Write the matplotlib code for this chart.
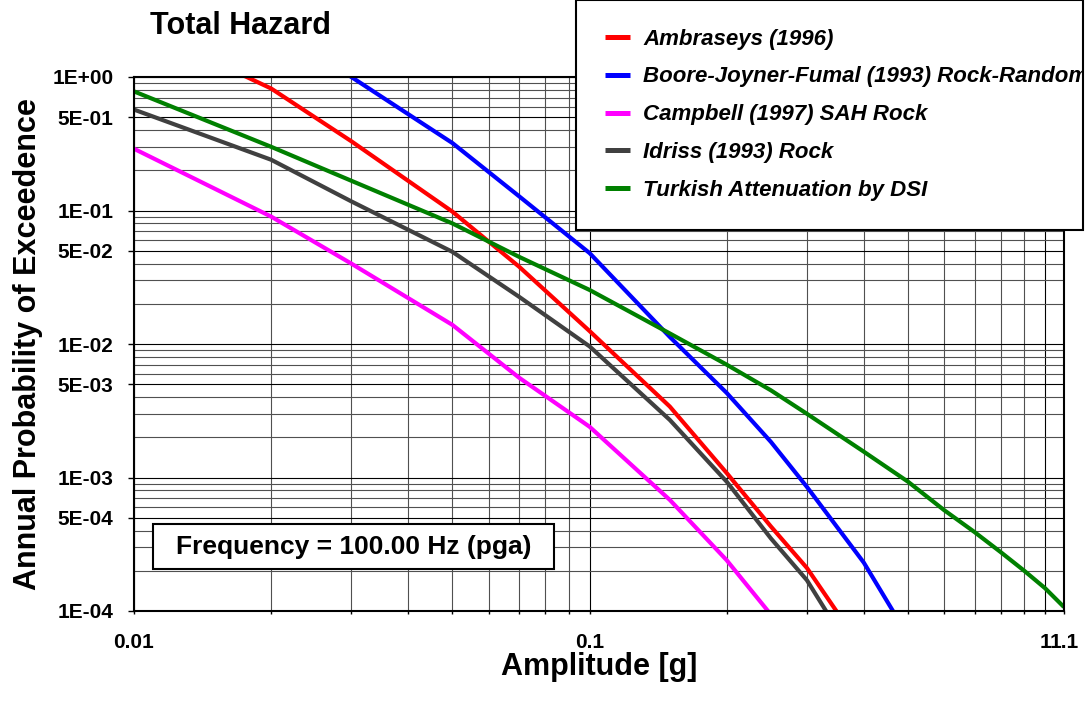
import numpy as np
import matplotlib
matplotlib.use("Agg")
import matplotlib.pyplot as plt
from matplotlib.patches import Rectangle
from matplotlib.transforms import Bbox, TransformedBbox

plt.rcParams['font.family'] = ['Liberation Sans', 'DejaVu Sans']
plt.rcParams['font.weight'] = 'bold'

nan = np.nan

# amplitude [g]
amplitude = [0.01, 0.02, 0.03, 0.05, 0.07, 0.1, 0.15, 0.2, 0.25, 0.3,
             0.4, 0.5, 0.6, 0.7, 0.8, 0.9, 1.0, 1.1]

# annual probability of exceedence per attenuation model
ambraseys = [2.5, 0.82, 0.33, 0.098, 0.038, 0.0125, 0.0034, 0.00108, 4.3e-4, 2.1e-4,
             5e-5, nan, nan, nan, nan, nan, nan, nan]
boore = [12.0, 2.5, 1.0, 0.32, 0.128, 0.048, 0.0113, 0.0043, 0.00185, 8.5e-4,
         2.3e-4, 6.5e-5, nan, nan, nan, nan, nan, nan]
campbell = [0.29, 0.09, 0.04, 0.0139, 0.0056, 0.0024, 6.8e-4, 2.4e-4, 9.4e-5, nan,
            nan, nan, nan, nan, nan, nan, nan, nan]
idriss = [0.57, 0.24, 0.117, 0.049, 0.0226, 0.0096, 0.0027, 9.3e-4, 3.5e-4, 1.7e-4,
          3.5e-5, nan, nan, nan, nan, nan, nan, nan]
turkish = [0.78, 0.30, 0.167, 0.080, 0.045, 0.0254, 0.012, 0.0070, 0.0045, 0.0030,
           0.00156, 9.3e-4, 5.7e-4, 3.9e-4, 2.75e-4, 2.0e-4, 1.48e-4, 1.07e-4]

series = [
    ("Ambraseys (1996)", ambraseys, "#ff0000"),
    ("Boore-Joyner-Fumal (1993) Rock-Random", boore, "#0000ff"),
    ("Campbell (1997) SAH Rock", campbell, "#ff00ff"),
    ("Idriss (1993) Rock", idriss, "#404040"),
    ("Turkish Attenuation by DSI", turkish, "#008000"),
]

W, H = 1088, 702
fig = plt.figure(figsize=(W / 100, H / 100), dpi=100)
ax = fig.add_axes([134 / W, 1 - 611 / H, (1064 - 134) / W, (611 - 77) / H])

for name, vals, col in series:
    ax.plot(amplitude, vals, color=col, lw=3, label=name, solid_capstyle='butt')

ax.set_xscale('log')
ax.set_yscale('log')
ax.set_xlim(0.01, 1.1)
ax.set_ylim(1e-4, 1)

yt = [1e-4, 5e-4, 1e-3, 5e-3, 1e-2, 5e-2, 1e-1, 5e-1, 1]
ytl = ['1E-04', '5E-04', '1E-03', '5E-03', '1E-02', '5E-02', '1E-01', '5E-01', '1E+00']
ax.set_yticks(yt)
ax.set_yticklabels(ytl)
ax.yaxis.set_minor_locator(matplotlib.ticker.LogLocator(base=10, subs=np.arange(2, 10)))
ax.yaxis.set_minor_formatter(matplotlib.ticker.NullFormatter())

ax.set_xticks([0.01, 0.1, 1, 1.1])
ax.set_xticklabels(['0.01', '0.1', '1', '1.1'])
xminor = [0.02, 0.03, 0.04, 0.05, 0.06, 0.07, 0.08, 0.09,
          0.2, 0.3, 0.4, 0.5, 0.6, 0.7, 0.8, 0.9]
ax.set_xticks(xminor, minor=True)
ax.xaxis.set_minor_formatter(matplotlib.ticker.NullFormatter())

ax.set_axisbelow(True)
ax.grid(True, which='major', color='#000000', lw=0.8)
ax.grid(True, which='minor', color='#505050', lw=0.8)

ax.tick_params(axis='y', which='major', direction='out', length=4.3, width=1,
               pad=10.5, labelsize=15)
ax.tick_params(axis='y', which='minor', length=0)
ax.tick_params(axis='x', which='both', direction='out', length=2.2, width=1,
               pad=14, labelsize=15)
for s in ax.spines.values():
    s.set_linewidth(1.5)
    s.set_color('black')

fig.text(28 / W, 1 - 344 / H, 'Annual Probability of Exceedence', rotation=90,
         ha='center', va='center', fontsize=22, fontweight='bold')
fig.text(599 / W, 1 - 667 / H, 'Amplitude [g]', ha='center', va='center',
         fontsize=22, fontweight='bold')
fig.text(150 / W, 1 - 26 / H, 'Total Hazard', ha='left', va='center',
         fontsize=22, fontweight='bold')

# frequency box
fig.add_artist(Rectangle((153 / W, 1 - 569 / H), 401 / W, 45 / H,
                         transform=fig.transFigure, facecolor='white',
                         edgecolor='black', lw=1.5, zorder=3))
fig.text(354 / W, 1 - 547 / H, 'Frequency = 100.00 Hz (pga)', ha='center',
         va='center', fontsize=19, fontweight='bold', zorder=4)

leg = ax.legend(loc='lower left',
                bbox_to_anchor=(576 / W, 1 - 230 / H, (1083 - 576) / W, 0.3),
                bbox_transform=fig.transFigure, mode='expand',
                prop={'size': 16, 'weight': 'bold', 'style': 'italic'},
                fancybox=False, framealpha=1, edgecolor='black',
                borderpad=1.3, labelspacing=0.76, handlelength=1.15,
                handletextpad=0.58, borderaxespad=0)
leg.get_frame().set_linewidth(1.5)
for h in leg.legend_handles:
    h.set_linewidth(3.6)
clip = TransformedBbox(Bbox.from_extents(0, 0, 1082 / W, 1), fig.transFigure)
for t in leg.get_texts():
    t.set_clip_box(clip)
    t.set_clip_on(True)

fig.savefig('out.png', dpi=100)
